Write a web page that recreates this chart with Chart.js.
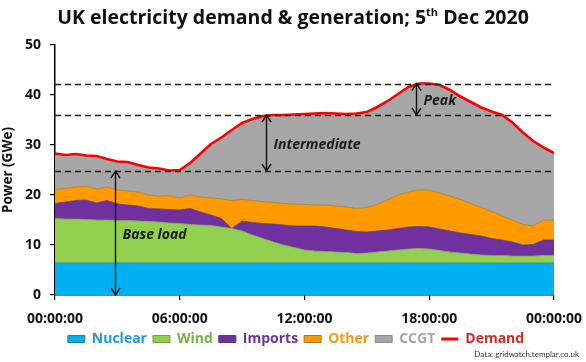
<!DOCTYPE html>
<html><head><meta charset="utf-8">
<script src="https://cdn.jsdelivr.net/npm/chart.js@4"></script>
<style>
html,body{margin:0;padding:0;background:#fff;}
#wrap{position:relative;width:586px;height:362px;overflow:hidden;}
canvas{position:absolute;left:0;top:0;}
#title{position:absolute;left:0;top:3px;width:586px;text-align:center;font:bold 19.5px "Open Sans", sans-serif;color:#111;white-space:nowrap;}
#title sup{font-size:11px;line-height:0;position:relative;top:-1px;}
#src{position:absolute;right:7px;bottom:3px;font:8px Lato, sans-serif;color:#333;}
</style></head>
<body>
<div id="wrap">
<canvas id="c" width="586" height="362"></canvas>
<div id="title">UK electricity demand &amp; generation; 5<sup>th</sup> Dec 2020</div>
<div id="src">Data: gridwatch.templar.co.uk</div>
</div>
<script>
// time of day in hours (half-hourly readings)
const hours = [0,0.5,1,1.5,2,2.5,3,3.5,4,4.5,5,5.5,6,6.5,7,7.5,8,8.5,9,9.5,10,10.5,11,11.5,12,12.5,13,13.5,14,14.5,15,15.5,16,16.5,17,17.5,18,18.5,19,19.5,20,20.5,21,21.5,22,22.5,23,23.5,24];
// generation by source, GW
const nuclear = [6.4,6.4,6.4,6.4,6.4,6.4,6.4,6.4,6.4,6.4,6.4,6.4,6.4,6.4,6.4,6.4,6.4,6.4,6.4,6.4,6.4,6.4,6.4,6.4,6.4,6.4,6.4,6.4,6.4,6.4,6.4,6.4,6.4,6.4,6.4,6.4,6.4,6.4,6.4,6.4,6.4,6.4,6.4,6.4,6.4,6.4,6.4,6.4,6.4];
const wind = [8.9,8.8,8.8,8.7,8.6,8.6,8.5,8.5,8.4,8.3,8.2,8.0,7.9,7.7,7.6,7.5,7.2,6.9,6.4,5.6,4.9,4.2,3.6,3.1,2.6,2.4,2.3,2.2,2.1,1.9,2.0,2.2,2.4,2.6,2.8,2.9,2.8,2.5,2.2,2.0,1.8,1.6,1.5,1.5,1.4,1.4,1.4,1.5,1.5];
const imports = [3.0,3.4,3.7,3.9,3.4,3.9,3.3,3.1,3.0,2.6,2.6,2.7,2.7,3.2,2.6,2.1,1.7,0.0,2.0,2.5,3.0,3.6,4.0,4.3,4.8,5.0,4.9,4.7,4.5,4.4,4.2,4.2,4.2,4.3,4.4,4.4,4.4,4.3,4.2,4.0,3.9,3.8,3.4,3.1,2.8,2.2,2.3,3.1,3.1];
const other = [2.8,2.7,2.7,2.8,2.8,2.7,2.8,2.8,2.8,2.7,2.6,2.8,2.4,2.7,3.0,3.4,3.9,5.6,4.3,4.4,4.4,4.3,4.3,4.4,4.3,4.2,4.4,4.5,4.6,4.6,4.9,5.3,6.0,6.7,7.0,7.3,7.4,7.2,7.0,6.7,6.2,5.7,5.4,4.8,4.4,4.1,3.7,4.0,3.9];
const ccgt = [7.2,6.7,6.6,6.1,6.6,5.6,5.7,5.8,5.4,5.5,5.5,5.0,5.6,6.4,8.7,10.8,12.3,14.1,15.3,16.3,17.1,17.5,17.7,17.9,18.1,18.3,18.4,18.5,18.6,19.0,19.1,19.5,19.8,20.2,21.0,21.3,21.3,21.6,21.2,20.6,20.3,20.0,20.0,20.2,19.5,18.4,17.0,14.5,13.5];
const demand = [28.3,28.0,28.2,27.9,27.8,27.2,26.7,26.6,26.0,25.5,25.3,24.9,25.0,26.4,28.3,30.2,31.5,33.0,34.4,35.2,35.8,36.0,36.0,36.1,36.2,36.3,36.4,36.3,36.2,36.3,36.6,37.6,38.8,40.2,41.6,42.3,42.3,42.0,41.0,39.7,38.6,37.5,36.7,36.0,34.5,32.5,30.8,29.5,28.4];
const seriesNames = ['Nuclear','Wind','Imports','Other','CCGT','Demand'];
const yTicks = [0,10,20,30,40,50];
const xTickHours = [0,6,12,18,24];
// reference levels (GW) and annotated bands
const refLevels = [24.8, 36.0, 42.3];
const bandLabels = ['Base load','Intermediate','Peak'];
const bandAt = [2.9, 10.15, 17.35];
const bandFrom = [0, 24.8, 36.0];
const bandTo = [24.8, 36.0, 42.3];
const bandLabelY = [12.0, 29.9, 38.8];

const fills = ['#00b0f0','#92d050','#7030a0','#ff9900','#a6a6a6','#ff0000'];
const edges = ['#2b7f9e','#7a9a5a','#5a3a78','#a07a40','#8a8a8a','#ff0000'];
const textCols = ['#1f9ad6','#78b144','#7030a0','#f39a12','#a6a6a6','#d42a2a'];
const FONT = '"Open Sans", sans-serif';

const pts = arr => arr.map((v,i)=>({x:hours[i], y:v}));
const areaDs = (i, arr) => ({
  label: seriesNames[i], data: pts(arr), backgroundColor: fills[i], borderColor: edges[i],
  borderWidth: 0.8, fill: i===0 ? 'origin' : '-1', pointRadius: 0, tension: 0, stack: 'gen'
});
const pad2 = n => String(n).padStart(2,'0');

const annot = {
  id: 'annot',
  afterDatasetsDraw(chart){
    const {ctx, scales:{x,y}} = chart;
    ctx.save();
    ctx.strokeStyle = '#222'; ctx.lineWidth = 1.5; ctx.setLineDash([6,4]);
    refLevels.forEach(v=>{
      const py = Math.round(y.getPixelForValue(v))+0.5;
      ctx.beginPath(); ctx.moveTo(x.getPixelForValue(0), py); ctx.lineTo(x.getPixelForValue(24), py); ctx.stroke();
    });
    ctx.setLineDash([]);
    ctx.strokeStyle = '#111'; ctx.lineWidth = 1.4;
    bandLabels.forEach((lab,i)=>{
      const px = Math.round(x.getPixelForValue(bandAt[i]))+0.5;
      const y1 = y.getPixelForValue(bandFrom[i]), y2 = y.getPixelForValue(bandTo[i]);
      ctx.beginPath(); ctx.moveTo(px,y1); ctx.lineTo(px,y2); ctx.stroke();
      const hw=4.5, hl=7;
      ctx.beginPath(); ctx.moveTo(px-hw,y2+hl); ctx.lineTo(px,y2); ctx.lineTo(px+hw,y2+hl); ctx.stroke();
      ctx.beginPath(); ctx.moveTo(px-hw,y1-hl); ctx.lineTo(px,y1); ctx.lineTo(px+hw,y1-hl); ctx.stroke();
      ctx.fillStyle = '#1a1a1a';
      ctx.font = 'italic bold 14px ' + FONT;
      ctx.textBaseline = 'middle'; ctx.textAlign = 'left';
      ctx.fillText(lab, px+7, y.getPixelForValue(bandLabelY[i]));
    });
    ctx.restore();
  }
};
// nudge the legend row to sit centred under the whole figure
const legendShift = {
  id: 'legendShift',
  afterLayout(chart){
    const lg = chart.legend;
    if (lg) { lg.left += 19; lg.right += 19; }
  }
};

function build(){
new Chart(document.getElementById('c'), {
  type: 'line',
  data: {
    datasets: [
      areaDs(0, nuclear), areaDs(1, wind), areaDs(2, imports), areaDs(3, other), areaDs(4, ccgt),
      {label: seriesNames[5], data: pts(demand), borderColor: fills[5], borderWidth: 2.6, fill: false,
       pointRadius: 0, tension: 0, stack: 'dem', order: -1}
    ]
  },
  options: {
    responsive: false, animation: false,
    layout: {padding: {top: 45, right: 32, bottom: 6, left: 0}},
    plugins: {
      title: {display: false}, tooltip: {enabled: false},
      legend: {
        position: 'bottom',
        labels: {
          usePointStyle: true, pointStyleWidth: 17, boxWidth: 17, boxHeight: 7, padding: 6,
          font: {family: FONT, weight: 'bold', size: 14},
          generateLabels(chart){
            return chart.data.datasets.map((ds,i)=>({
              text: ds.label, datasetIndex: i, hidden: false,
              fillStyle: fills[i], strokeStyle: i===5 ? fills[i] : edges[i],
              lineWidth: i===5 ? 3 : 1, pointStyle: i===5 ? 'line' : 'rect', fontColor: textCols[i]
            }));
          }
        }
      }
    },
    scales: {
      x: {
        type: 'linear', min: 0, max: 24,
        afterBuildTicks(s){ s.ticks = xTickHours.map(v=>({value:v})); },
        ticks: {autoSkip: false, maxRotation: 0, padding: 11, color: '#111',
          font: {family: FONT, weight: 'bold', size: 14},
          callback: v => pad2(v % 24) + ':00:00'},
        grid: {drawOnChartArea: false, tickLength: 5, color: '#000', lineWidth: 1.2},
        border: {color: '#000', width: 1.5},
        afterFit(s){ s.height = 31; s.paddingLeft = 0; s.paddingRight = 0; }
      },
      y: {
        stacked: true, min: 0, max: 50,
        afterBuildTicks(s){ s.ticks = yTicks.map(v=>({value:v})); },
        ticks: {padding: 9, color: '#111', font: {family: FONT, weight: 'bold', size: 14}},
        grid: {drawOnChartArea: false, tickLength: 5, color: '#000', lineWidth: 1.2},
        border: {color: '#000', width: 1.5},
        title: {display: true, text: 'Power (GWe)', color: '#111', font: {family: FONT, weight: 'bold', size: 13.5}, padding: {top: 0, bottom: 2}},
        afterFit(s){ s.width = 55; }
      }
    }
  },
  plugins: [annot, legendShift]
});
}
const fontLoads = ['bold 14px "Open Sans"','italic bold 14px "Open Sans"','14px "Open Sans"','8px Lato'].map(f=>document.fonts.load(f).catch(()=>null));
Promise.all(fontLoads).then(build, build);
</script>
</body></html>
